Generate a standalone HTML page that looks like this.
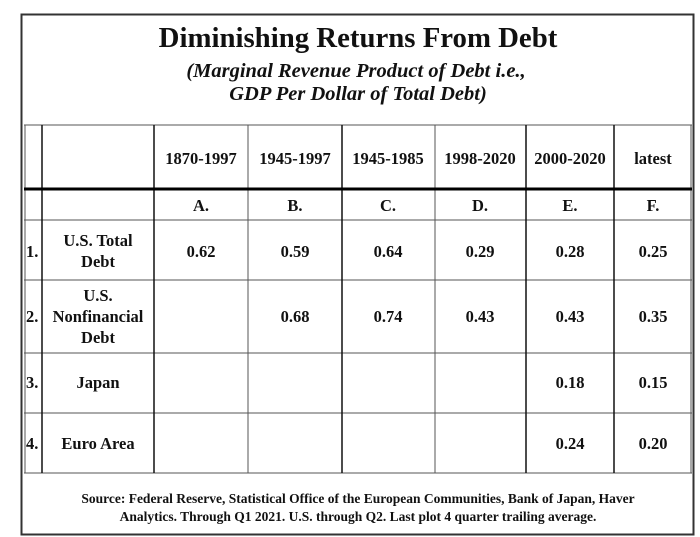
<!DOCTYPE html>
<html><head><style>
html,body{margin:0;padding:0;background:#fff;}
svg{display:block;}
text{font-family:"Liberation Serif",serif;font-weight:bold;fill:#111;}
</style></head><body>
<svg width="700" height="537" viewBox="0 0 700 537">
<rect x="21.5" y="14.5" width="672" height="520" fill="none" stroke="#333" stroke-width="2"/>
<text x="358" y="47" font-size="28.8" text-anchor="middle">Diminishing Returns From Debt</text>
<text x="356" y="77" font-size="20.5" font-style="italic" text-anchor="middle">(Marginal Revenue Product of Debt i.e.,</text>
<text x="358" y="100" font-size="20.5" font-style="italic" text-anchor="middle">GDP Per Dollar of Total Debt)</text>
<g stroke="#555" stroke-width="1" fill="none">
<line x1="24" y1="125" x2="692" y2="125"/>
<line x1="24" y1="220" x2="692" y2="220"/>
<line x1="24" y1="280" x2="692" y2="280"/>
<line x1="24" y1="353" x2="692" y2="353"/>
<line x1="24" y1="413" x2="692" y2="413"/>
<line x1="24" y1="473" x2="692" y2="473"/>
<line x1="25" y1="125" x2="25" y2="473"/>
<line x1="691" y1="125" x2="691" y2="473"/>
<line x1="248" y1="125" x2="248" y2="473"/>
<line x1="435" y1="125" x2="435" y2="473"/>
</g>
<g stroke="#111" stroke-width="1.5">
<line x1="42" y1="125" x2="42" y2="473"/>
<line x1="154" y1="125" x2="154" y2="473"/>
<line x1="342" y1="125" x2="342" y2="473"/>
<line x1="526" y1="125" x2="526" y2="473"/>
<line x1="614" y1="125" x2="614" y2="473"/>
</g>
<line x1="24" y1="189" x2="692" y2="189" stroke="#000" stroke-width="3"/>
<g font-size="16.5" text-anchor="middle">
<text x="201" y="164">1870-1997</text>
<text x="295" y="164">1945-1997</text>
<text x="388" y="164">1945-1985</text>
<text x="480" y="164">1998-2020</text>
<text x="570" y="164">2000-2020</text>
<text x="653" y="164">latest</text>
<text x="201" y="211">A.</text>
<text x="295" y="211">B.</text>
<text x="388" y="211">C.</text>
<text x="480" y="211">D.</text>
<text x="570" y="211">E.</text>
<text x="653" y="211">F.</text>
<text x="98" y="246">U.S. Total</text>
<text x="98" y="267">Debt</text>
<text x="98" y="301">U.S.</text>
<text x="98" y="322">Nonfinancial</text>
<text x="98" y="343">Debt</text>
<text x="98" y="388">Japan</text>
<text x="98" y="449">Euro Area</text>
<text x="201" y="257">0.62</text>
<text x="295" y="257">0.59</text>
<text x="388" y="257">0.64</text>
<text x="480" y="257">0.29</text>
<text x="570" y="257">0.28</text>
<text x="653" y="257">0.25</text>
<text x="295" y="322">0.68</text>
<text x="388" y="322">0.74</text>
<text x="480" y="322">0.43</text>
<text x="570" y="322">0.43</text>
<text x="653" y="322">0.35</text>
<text x="570" y="388">0.18</text>
<text x="653" y="388">0.15</text>
<text x="570" y="449">0.24</text>
<text x="653" y="449">0.20</text>
</g>
<g font-size="16.5">
<text x="26" y="257">1.</text>
<text x="26" y="322">2.</text>
<text x="26" y="388">3.</text>
<text x="26" y="449">4.</text>
</g>
<text x="358" y="503" font-size="13.5" text-anchor="middle">Source:  Federal Reserve, Statistical Office of the European Communities, Bank of Japan, Haver</text>
<text x="358" y="521" font-size="13.5" text-anchor="middle">Analytics. Through Q1 2021. U.S. through Q2. Last plot 4 quarter trailing average.</text>
</svg>
</body></html>
